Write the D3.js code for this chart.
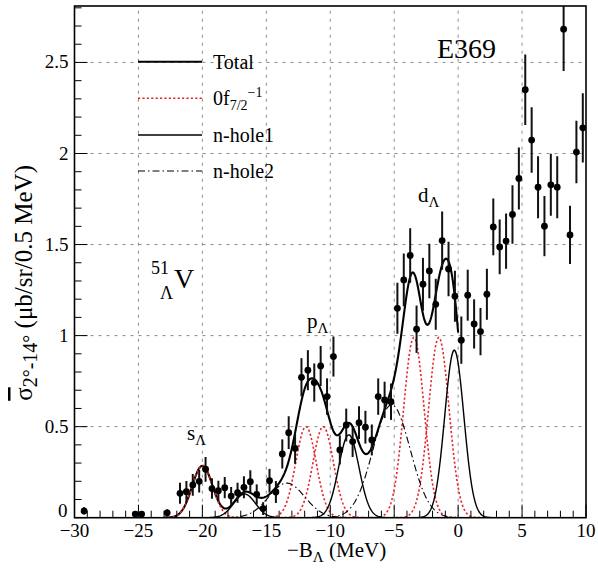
<!DOCTYPE html>
<html><head><meta charset="utf-8">
<script src="https://cdn.jsdelivr.net/npm/d3@7"></script>
<style>
body{margin:0;background:#fff}
svg{display:block}
svg text{font-family:"Liberation Serif","Times New Roman","DejaVu Serif",serif !important;fill:#000}
</style>
</head><body>
<svg id="c" width="598" height="571" font-family="Liberation Serif, Times New Roman, serif"></svg>
<script>
// ---- data ----
const binCenters = [-29.25,-25.25,-24.75,-22.75,-21.75,-21.25,-20.75,-20.25,-19.75,-19.25,-18.75,-18.25,-17.75,-17.25,-16.75,-16.25,-15.75,-15.25,-14.75,-14.25,
  -13.75,-13.25,-12.75,-12.25,-11.75,-11.25,-10.75,-10.25,-9.75,-9.25,-8.75,-8.25,-7.75,-7.25,-6.75,-6.25,-5.75,-5.25,
  -4.75,-4.25,-3.75,-3.25,-2.75,-2.25,-1.75,-1.25,-0.75,-0.25,0.25,0.75,1.25,1.75,2.25,2.75,3.25,3.75,4.25,4.75,
  5.25,5.75,6.25,6.75,7.25,7.75,8.25,8.75,9.25,9.75];
const crossSection = [0.037,0.020,0.020,0.027,0.134,0.143,0.180,0.200,0.266,0.160,0.148,0.165,0.119,0.137,0.167,0.198,0.128,0.050,0.203,0.141,
  0.350,0.467,0.381,0.771,0.810,0.742,0.833,0.665,0.885,0.372,0.509,0.418,0.522,0.497,0.427,0.665,0.647,0.637,
  1.150,1.306,1.440,1.035,1.282,1.355,1.172,1.522,1.366,1.216,0.975,1.222,1.064,1.022,1.227,1.597,1.487,1.519,1.665,1.863,
  2.350,2.074,1.815,1.601,1.828,1.815,2.683,1.553,2.008,2.141];
const errors = [0.020,0.015,0.015,0.020,0.058,0.058,0.060,0.062,0.068,0.056,0.055,0.058,0.050,0.055,0.060,0.062,0.055,0.035,0.065,0.060,
  0.080,0.090,0.085,0.105,0.110,0.105,0.110,0.100,0.110,0.080,0.090,0.085,0.090,0.090,0.085,0.100,0.100,0.100,
  0.140,0.145,0.150,0.130,0.145,0.150,0.140,0.160,0.150,0.140,0.130,0.140,0.135,0.130,0.140,0.156,0.150,0.152,0.160,0.170,
  0.194,0.180,0.170,0.165,0.170,0.170,0.230,0.160,0.172,0.190];

// fitted peak components (centre, amplitude, width)
const f72Centers = [-20.0,-11.9,-10.55,-3.46,-1.51];
const f72Amps    = [0.285,0.50,0.50,0.99,0.99];
const f72Sigmas  = [0.80,0.80,0.80,0.80,0.80];
const hole1Centers = [-16.7,-8.55,-0.30];
const hole1Amps    = [0.13,0.455,0.92];
const hole1Sigmas  = [0.85,0.80,0.75];
const hole2Centers = [-13.4,-5.2];
const hole2Amps    = [0.19,0.62];
const hole2Sigmas  = [1.40,1.45];
const totalRange = [-23,0];

const xTicks = [-30,-25,-20,-15,-10,-5,0,5,10];
const xTickLabels = ["\u221230","\u221225","\u221220","\u221215","\u221210","\u22125","0","5","10"];
const yTicks = [0,0.5,1,1.5,2,2.5];
const yTickLabels = ["0","0.5","1","1.5","2","2.5"];
const xDomain = [-30,10];
const yDomain = [0,2.81];

// ---- drawing ----
const svg = d3.select("#c");
const L=74.5, R=586, T=6, B=517.7;
const x = d3.scaleLinear().domain(xDomain).range([L,R]);
const y = d3.scaleLinear().domain(yDomain).range([B,T]);

svg.append("defs").append("clipPath").attr("id","clip")
  .append("rect").attr("x",L).attr("y",T).attr("width",R-L).attr("height",B-T);

// grid
const grid = svg.append("g").attr("stroke","#8a8a8a").attr("stroke-width",1).attr("stroke-dasharray","3,5");
grid.selectAll("line.v").data(xTicks.filter(v=>v>xDomain[0]&&v<xDomain[1])).join("line")
  .attr("x1",d=>x(d)).attr("x2",d=>x(d)).attr("y1",B).attr("y2",T);
grid.selectAll("line.h").data(yTicks.filter(v=>v>0)).join("line").attr("class","h")
  .attr("y1",d=>y(d)).attr("y2",d=>y(d)).attr("x1",L).attr("x2",R);

function gauss(c,a,s){return t=>a*Math.exp(-(t-c)*(t-c)/(2*s*s));}
function samples(lo,hi){const out=[];for(let t=lo;t<=hi+1e-9;t+=0.05)out.push(t);return out;}
const line = d3.line().x(d=>x(d[0])).y(d=>y(d[1]));
const plot = svg.append("g").attr("clip-path","url(#clip)");

const comps = [];
f72Centers.forEach((c,i)=>comps.push({f:gauss(c,f72Amps[i],f72Sigmas[i]),c,s:f72Sigmas[i],type:"f72"}));
hole1Centers.forEach((c,i)=>comps.push({f:gauss(c,hole1Amps[i],hole1Sigmas[i]),c,s:hole1Sigmas[i],type:"h1"}));
hole2Centers.forEach((c,i)=>comps.push({f:gauss(c,hole2Amps[i],hole2Sigmas[i]),c,s:hole2Sigmas[i],type:"h2"}));

const styles = {
  f72:{stroke:"#e8262a",width:1.6,dash:"2.2,2.2"},
  h1:{stroke:"#000",width:1.4,dash:null},
  h2:{stroke:"#000",width:1.1,dash:"7,3,1.5,3"}
};
// total
const totalPts = samples(totalRange[0],totalRange[1]).map(t=>[t,d3.sum(comps,c=>c.f(t))]);
plot.append("path").attr("d",line(totalPts)).attr("fill","none").attr("stroke","#000").attr("stroke-width",2.1);
comps.forEach(c=>{
  const st=styles[c.type];
  const pts=samples(c.c-4.2*c.s,c.c+4.2*c.s).map(t=>[t,c.f(t)]);
  plot.append("path").attr("d",line(pts)).attr("fill","none").attr("stroke",st.stroke)
    .attr("stroke-width",st.width).attr("stroke-dasharray",st.dash);
});

// data points
const pts = binCenters.map((b,i)=>({x:b,y:crossSection[i],e:errors[i]}));
plot.append("g").selectAll("line").data(pts).join("line")
  .attr("x1",d=>x(d.x)).attr("x2",d=>x(d.x))
  .attr("y1",d=>y(Math.max(0,d.y-d.e))).attr("y2",d=>y(d.y+d.e))
  .attr("stroke","#111").attr("stroke-width",2);
plot.append("g").selectAll("circle").data(pts).join("circle")
  .attr("cx",d=>x(d.x)).attr("cy",d=>y(d.y)).attr("r",3.4).attr("fill","#000");

// frame
svg.append("rect").attr("x",L).attr("y",T).attr("width",R-L).attr("height",B-T)
  .attr("fill","none").attr("stroke","#000").attr("stroke-width",1.6);

// ticks (inward, ROOT style)
const xMinor = d3.range(xDomain[0],xDomain[1]+0.001,1);
svg.append("g").selectAll("line").data(xMinor).join("line")
  .attr("x1",d=>x(d)).attr("x2",d=>x(d)).attr("y1",B)
  .attr("y2",d=>B-(xTicks.includes(d)?13:7)).attr("stroke","#000").attr("stroke-width",1);
const yMinor = d3.range(0,2.81,0.1);
svg.append("g").selectAll("line").data(yMinor).join("line")
  .attr("y1",d=>y(d)).attr("y2",d=>y(d)).attr("x1",L)
  .attr("x2",(d,i)=>L+(i%5===0?13:7)).attr("stroke","#000").attr("stroke-width",1);

// tick labels
svg.append("g").selectAll("text").data(xTicks).join("text")
  .attr("x",d=>x(d)).attr("y",B+19).attr("text-anchor","middle")
  .attr("font-size",19).text((d,i)=>xTickLabels[i]);
svg.append("g").selectAll("text").data(yTicks).join("text")
  .attr("x",(d,i)=>L-6-(i===0?1:0)).attr("y",(d,i)=>y(d)+6-(i===0?7:0)).attr("text-anchor","end")
  .attr("font-size",19).text((d,i)=>yTickLabels[i]);

// axis titles
const xt = svg.append("text").attr("x",287).attr("y",557).attr("font-size",21);
xt.append("tspan").text("\u2212B");
xt.append("tspan").attr("font-size",15).attr("dy",5).text("\u039B");
xt.append("tspan").attr("dy",-5).text(" (MeV)");

const yt = svg.append("text").attr("transform","translate(32,165) rotate(-90)")
  .attr("text-anchor","end").attr("font-size",25);
yt.append("tspan").attr("style","text-decoration:overline").text("\u03C3");
yt.append("tspan").attr("font-size",20).attr("dy",5).text("2\u00B0-14\u00B0");
yt.append("tspan").attr("dy",-5).text(" (\u03BCb/sr/0.5 MeV)");

// annotations
svg.append("text").attr("x",437).attr("y",58).attr("font-size",28).text("E369");
svg.append("text").attr("x",151).attr("y",274).attr("font-size",18).text("51");
svg.append("text").attr("x",160).attr("y",299).attr("font-size",18).text("\u039B");
svg.append("text").attr("x",174).attr("y",288).attr("font-size",28).text("V");

function peakLabel(px,py,letter){
  const t=svg.append("text").attr("x",px).attr("y",py).attr("font-size",21);
  t.append("tspan").text(letter);
  t.append("tspan").attr("font-size",15).attr("dy",5).text("\u039B");
}
peakLabel(187,440,"s");
peakLabel(307,328,"p");
peakLabel(418,202,"d");

// legend
const legRows = [
  {y:61.7,st:{stroke:"#000",width:2.1,dash:null},label:"Total"},
  {y:98.3,st:styles.f72,label:"f72"},
  {y:135,st:styles.h1,label:"n-hole1"},
  {y:171,st:styles.h2,label:"n-hole2"}
];
legRows.forEach(r=>{
  svg.append("line").attr("x1",138).attr("x2",202).attr("y1",r.y).attr("y2",r.y)
    .attr("stroke",r.st.stroke).attr("stroke-width",r.st.width).attr("stroke-dasharray",r.st.dash);
  const t=svg.append("text").attr("x",213).attr("y",r.y+7).attr("font-size",20);
  if(r.label==="f72"){
    t.append("tspan").text("0f");
    t.append("tspan").attr("font-size",14).attr("dy",5).text("7/2");
    t.append("tspan").attr("font-size",14).attr("dy",-13).text("\u22121");
  } else t.text(r.label);
});
</script>
</body></html>
